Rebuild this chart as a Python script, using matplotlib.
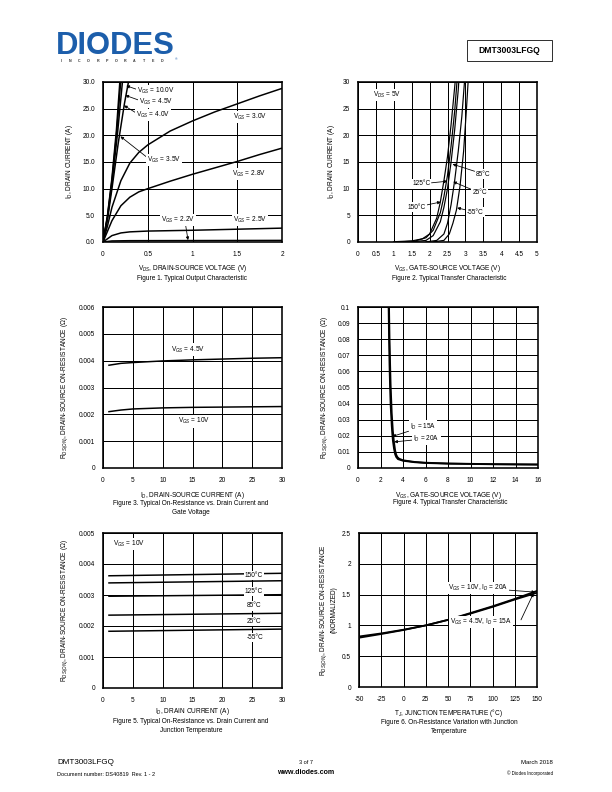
import numpy as np
import matplotlib
matplotlib.use("Agg")
from matplotlib import pyplot as plt
from matplotlib.patches import Rectangle

plt.rcParams["font.family"] = ["Liberation Sans", "DejaVu Sans"]
plt.rcParams["mathtext.fontset"] = "custom"
plt.rcParams["mathtext.rm"] = "Liberation Sans"
plt.rcParams["mathtext.it"] = "Liberation Sans:italic"
plt.rcParams["mathtext.bf"] = "Liberation Sans:bold"

FS = 6.5

## データ

# Figure 1: 出力特性 (VDS, ID)
f1_vgs10 = [[0, 0], [0.05, 5], [0.1, 12], [0.15, 21], [0.19, 30.5]]
f1_vgs45 = [[0, 0], [0.05, 4.8], [0.1, 11.5], [0.15, 20], [0.2, 30.5]]
f1_vgs40 = [[0, 0], [0.05, 4.5], [0.1, 11], [0.16, 20], [0.22, 30.5]]
f1_vgs35 = [[0, 0], [0.05, 4.2], [0.1, 10], [0.17, 18.5], [0.24, 26], [0.29, 30.5]]
f1_vgs30 = [[0, 0], [0.05, 3], [0.1, 6.5], [0.2, 11.5], [0.3, 14.8], [0.4, 16.8], [0.5, 18.2],
            [0.75, 20.8], [1.0, 22.7], [1.25, 24.4], [1.5, 25.9], [1.75, 27.4], [2.0, 28.8]]
f1_vgs28 = [[0, 0], [0.05, 2], [0.1, 4], [0.2, 6.8], [0.3, 8.4], [0.4, 9.4], [0.5, 10.0],
            [0.75, 11.4], [1.0, 12.7], [1.25, 13.9], [1.5, 15.1], [1.75, 16.4], [2.0, 17.6]]
f1_vgs25 = [[0, 0], [0.1, 1.2], [0.2, 1.7], [0.3, 1.9], [0.5, 2.05], [1.0, 2.2], [1.5, 2.4], [2.0, 2.6]]
f1_vgs22 = [[0, 0], [0.1, 0.2], [0.3, 0.25], [2.0, 0.3]]

# Figure 2: 伝達特性 (VGS, ID)
f2_t150 = [[1.0, 0.05], [1.5, 0.2], [1.8, 0.6], [2.0, 1.5], [2.2, 4.5], [2.3, 7.5], [2.4, 11.5],
           [2.5, 16], [2.6, 22], [2.7, 29], [2.72, 30.5]]
f2_t125 = [[1.2, 0.03], [1.6, 0.2], [1.9, 0.8], [2.1, 2.2], [2.3, 5.5], [2.4, 8.5], [2.5, 12.5],
           [2.6, 18], [2.7, 24.5], [2.77, 30.5]]
f2_t85 = [[1.5, 0.03], [1.9, 0.3], [2.1, 1.2], [2.3, 3.8], [2.4, 6.5], [2.5, 10], [2.6, 15],
          [2.7, 21], [2.8, 28.5], [2.82, 30.5]]
f2_t25 = [[1.9, 0.02], [2.2, 0.3], [2.4, 1.5], [2.5, 3.5], [2.6, 7], [2.7, 11.5], [2.8, 17],
          [2.9, 23.5], [2.98, 30.5]]
f2_tm55 = [[2.1, 0.02], [2.4, 0.3], [2.55, 1.5], [2.65, 3.5], [2.75, 6], [2.85, 10.5], [2.95, 17],
           [3.03, 25], [3.08, 30.5]]

# Figure 3: オン抵抗 vs ID
f3_id = [1, 3, 5, 10, 15, 20, 25, 30]
f3_vgs45 = [0.00383, 0.00390, 0.00393, 0.00399, 0.00403, 0.00406, 0.00409, 0.00411]
f3_vgs10 = [0.00210, 0.00216, 0.00220, 0.00224, 0.00226, 0.00227, 0.00228, 0.00229]

# Figure 4: オン抵抗 vs VGS
f4_id15 = [[2.72, 0.1], [2.76, 0.08], [2.8, 0.064], [2.85, 0.05], [2.9, 0.039], [3.0, 0.026],
           [3.05, 0.021], [3.1, 0.017], [3.2, 0.012], [3.3, 0.0085], [3.4, 0.0068], [3.55, 0.0055],
           [4, 0.0045], [5, 0.0036], [6, 0.0031], [8, 0.0027], [10, 0.0025], [12, 0.0023],
           [14, 0.0022], [16, 0.0021]]
f4_id20 = [[2.76, 0.1], [2.8, 0.082], [2.85, 0.066], [2.9, 0.052], [3.0, 0.034], [3.1, 0.023],
           [3.2, 0.016], [3.3, 0.011], [3.4, 0.0082], [3.5, 0.0068], [3.65, 0.0058], [4, 0.0048],
           [5, 0.0038], [6, 0.0033], [8, 0.0028], [10, 0.0026], [12, 0.0024], [14, 0.0023],
           [16, 0.0022]]

# Figure 5: オン抵抗 vs ID (温度別)
f5_id = [1, 30]
f5_t150 = [0.00362, 0.00370]
f5_t125 = [0.00339, 0.00346]
f5_t85 = [0.00296, 0.00301]
f5_t25 = [0.00235, 0.00241]
f5_tm55 = [0.00183, 0.00190]

# Figure 6: 正規化オン抵抗 vs Tj
f6_tj = [-50, -25, 0, 25, 50, 75, 100, 125, 150]
f6_vgs10 = [0.82, 0.87, 0.93, 1.0, 1.09, 1.2, 1.31, 1.43, 1.56]
f6_vgs45 = [0.80, 0.86, 0.925, 1.0, 1.09, 1.19, 1.30, 1.42, 1.53]


fig = plt.figure(figsize=(8.5, 11), dpi=72)
W, H = 612.0, 792.0


def add_ax(x0, y0, x1, y1):
    return fig.add_axes([x0 / W, 1 - y1 / H, (x1 - x0) / W, (y1 - y0) / H])


def style(ax, xlim, ylim, xt, yt, xtl, ytl, xlabel, ylabel, xl_y, yl_x):
    ax.set_xlim(*xlim)
    ax.set_ylim(*ylim)
    ax.set_xticks(xt)
    ax.set_yticks(yt)
    ax.set_xticklabels(xtl)
    ax.set_yticklabels(ytl)
    ax.tick_params(length=0, labelsize=FS, pad=8)
    ax.tick_params(axis="x", pad=9)
    ax.grid(True, color="black", linewidth=1.0)
    ax.set_axisbelow(True)
    for s in ax.spines.values():
        s.set_linewidth(1.6)
    ax.set_xlabel(xlabel, fontsize=FS)
    ax.set_ylabel(ylabel, fontsize=FS, ha="center", multialignment="center")
    ax.xaxis.set_label_coords(0.5, xl_y)
    ax.yaxis.set_label_coords(yl_x, 0.5)


def curve(ax, pts, lw=1.5):
    a = np.array(pts)
    ax.plot(a[:, 0], a[:, 1], color="black", linewidth=lw, zorder=3)


box = dict(fc="white", ec="none", pad=1.2)
arr = dict(arrowstyle="-|>", color="black", lw=0.8, mutation_scale=6, shrinkA=0, shrinkB=0)


def label(ax, s, xy, xytext=None, ha="left"):
    if xytext is None:
        ax.text(xy[0], xy[1], s, fontsize=FS, ha=ha, va="center", bbox=box, zorder=5)
    else:
        ax.annotate(s, xy=xy, xytext=xytext, fontsize=FS, ha=ha, va="center",
                    bbox=box, zorder=5, arrowprops=arr)


## Figure 1
ax = add_ax(103, 82, 282, 242)
style(ax, (0, 2), (0, 30), np.arange(0, 2.01, 0.5), np.arange(0, 30.1, 5),
      ["0", "0.5", "1", "1.5", "2"], ["%.1f" % v for v in np.arange(0, 30.1, 5)],
      "V$_{DS}$, DRAIN-SOURCE VOLTAGE (V)", "I$_D$, DRAIN CURRENT (A)", -0.134, -0.159)
for c in [f1_vgs10, f1_vgs45, f1_vgs40, f1_vgs35, f1_vgs30, f1_vgs28, f1_vgs25, f1_vgs22]:
    curve(ax, c)
ax.annotate("", xy=(0.26, 29.3), xytext=(0.38, 28.6), arrowprops=arr, zorder=5)
label(ax, "V$_{GS}$ = 10.0V", (0.38, 28.3))
ax.annotate("", xy=(0.25, 27.5), xytext=(0.40, 26.6), arrowprops=arr, zorder=5)
label(ax, "V$_{GS}$ = 4.5V", (0.40, 26.25))
ax.annotate("", xy=(0.235, 25.6), xytext=(0.37, 24.2), arrowprops=arr, zorder=5)
label(ax, "V$_{GS}$ = 4.0V", (0.37, 23.8))
label(ax, "V$_{GS}$ = 3.0V", (1.45, 23.4))
ax.annotate("", xy=(0.195, 19.8), xytext=(0.49, 15.9), arrowprops=arr, zorder=5)
label(ax, "V$_{GS}$ = 3.5V", (0.49, 15.4))
label(ax, "V$_{GS}$ = 2.8V", (1.44, 12.75))
ax.annotate("", xy=(0.95, 0.35), xytext=(0.92, 3.5), arrowprops=arr, zorder=5)
label(ax, "V$_{GS}$ = 2.2V", (0.65, 4.1))
label(ax, "V$_{GS}$ = 2.5V", (1.45, 4.1))

## Figure 2
ax = add_ax(358, 82, 537, 242)
style(ax, (0, 5), (0, 30), np.arange(0, 5.01, 0.5), np.arange(0, 30.1, 5),
      ["0", "0.5", "1", "1.5", "2", "2.5", "3", "3.5", "4", "4.5", "5"],
      [str(v) for v in range(0, 31, 5)],
      "V$_{GS}$, GATE-SOURCE VOLTAGE (V)", "I$_D$, DRAIN CURRENT (A)", -0.134, -0.12)
for c in [f2_t150, f2_t125, f2_t85, f2_t25, f2_tm55]:
    curve(ax, c, lw=1.2)
label(ax, "V$_{DS}$ = 5V", (0.41, 27.6))
label(ax, "85°C", (2.64, 14.6), (3.29, 12.75))
label(ax, "125°C", (2.5, 11.4), (2.02, 10.9), ha="right")
label(ax, "25°C", (2.66, 11.3), (3.2, 9.2))
label(ax, "150°C", (2.31, 7.5), (1.9, 6.56), ha="right")
label(ax, "-55°C", (2.77, 6.4), (3.04, 5.6))

## Figure 3
ax = add_ax(103, 307, 282, 468)
style(ax, (0, 30), (0, 0.006), np.arange(0, 31, 5), np.arange(0, 0.00601, 0.001),
      [str(v) for v in range(0, 31, 5)], ["0", "0.001", "0.002", "0.003", "0.004", "0.005", "0.006"],
      "I$_D$, DRAIN-SOURCE CURRENT (A)", "R$_{DS(ON)}$, DRAIN-SOURCE ON-RESISTANCE (Ω)",
      -0.134, -0.187)
ax.plot(f3_id, f3_vgs45, color="black", linewidth=1.5, zorder=3)
ax.plot(f3_id, f3_vgs10, color="black", linewidth=1.5, zorder=3)
label(ax, "V$_{GS}$ = 4.5V", (11.4, 0.00441))
label(ax, "V$_{GS}$ = 10V", (12.6, 0.00174))

## Figure 4
ax = add_ax(358, 307, 538, 468)
style(ax, (0, 16), (0, 0.1), np.arange(0, 17, 2), np.arange(0, 0.1001, 0.01),
      [str(v) for v in range(0, 17, 2)],
      ["0", "0.01", "0.02", "0.03", "0.04", "0.05", "0.06", "0.07", "0.08", "0.09", "0.1"],
      "V$_{GS}$, GATE-SOURCE VOLTAGE (V)", "R$_{DS(ON)}$, DRAIN-SOURCE ON-RESISTANCE (Ω)",
      -0.134, -0.158)
curve(ax, f4_id15, lw=1.8)
curve(ax, f4_id20, lw=1.8)
label(ax, "I$_D$ = 15A", (3.06, 0.0196), (4.6, 0.0257))
label(ax, "I$_D$ = 20A", (3.22, 0.0162), (4.89, 0.0182))

## Figure 5
ax = add_ax(103, 533, 282, 688)
style(ax, (0, 30), (0, 0.005), np.arange(0, 31, 5), np.arange(0, 0.00501, 0.001),
      [str(v) for v in range(0, 31, 5)], ["0", "0.001", "0.002", "0.003", "0.004", "0.005"],
      "I$_D$, DRAIN CURRENT (A)", "R$_{DS(ON)}$, DRAIN-SOURCE ON-RESISTANCE (Ω)",
      -0.113, -0.187)
for r in [f5_t150, f5_t125, f5_t85, f5_t25, f5_tm55]:
    ax.plot(f5_id, r, color="black", linewidth=1.5, zorder=3)
label(ax, "V$_{GS}$ = 10V", (1.7, 0.00465))
label(ax, "150°C", (23.8, 0.00362))
label(ax, "125°C", (23.8, 0.00312))
label(ax, "85°C", (24.1, 0.00265))
label(ax, "25°C", (24.1, 0.00215))
label(ax, "-55°C", (24.1, 0.00163))

## Figure 6
ax = add_ax(359, 533, 537, 687)
style(ax, (-50, 150), (0, 2.5), np.arange(-50, 151, 25), np.arange(0, 2.51, 0.5),
      [str(v) for v in range(-50, 151, 25)], ["0", "0.5", "1", "1.5", "2", "2.5"],
      "T$_J$, JUNCTION TEMPERATURE (°C)",
      "R$_{DS(ON)}$, DRAIN-SOURCE ON-RESISTANCE\n(NORMALIZED)", -0.128, -0.122)
ax.plot(f6_tj, f6_vgs10, color="black", linewidth=1.8, zorder=3)
ax.plot(f6_tj, f6_vgs45, color="black", linewidth=1.8, zorder=3)
label(ax, "V$_{GS}$ = 10V, I$_D$ = 20A", (148, 1.54), (49.7, 1.61))
ax.annotate("", xy=(146, 1.52), xytext=(132, 1.09), arrowprops=arr, zorder=5)
label(ax, "V$_{GS}$ = 4.5V, I$_D$ = 15A", (52, 1.055))

## キャプション
def ftext(x, y, s, **kw):
    fig.text(x / W, 1 - y / H, s, **kw)

ftext(192, 279, "Figure 1. Typical Output Characteristic", fontsize=FS, ha="center", va="center")
ftext(449, 279, "Figure 2. Typical Transfer Characteristic", fontsize=FS, ha="center", va="center")
ftext(191, 508, "Figure 3. Typical On-Resistance vs. Drain Current and\nGate Voltage",
      fontsize=FS, ha="center", va="center", linespacing=1.4)
ftext(450, 503, "Figure 4. Typical Transfer Characteristic", fontsize=FS, ha="center", va="center")
ftext(191, 726, "Figure 5. Typical On-Resistance vs. Drain Current and\nJunction Temperature",
      fontsize=FS, ha="center", va="center", linespacing=1.4)
ftext(449, 727, "Figure 6. On-Resistance Variation with Junction\nTemperature",
      fontsize=FS, ha="center", va="center", linespacing=1.4)

## ヘッダー
ftext(56, 46, "DIODES", fontsize=31, fontweight="bold", color="#1c5eab", va="center")
fig.add_artist(plt.Line2D([62 / W, 118 / W], [1 - 45 / H, 1 - 45 / H], color="white", lw=1.2))
for i, ch in enumerate("INCORPORATED"):
    ftext(61 + i * 9.2, 61.5, ch, fontsize=3.6, color="#333333", ha="center", va="center",
          fontweight="bold")
ftext(175, 59, "®", fontsize=3.5, color="#1c5eab", va="center")
fig.add_artist(Rectangle((467 / W, 1 - 61 / H), 85 / W, 21 / H, transform=fig.transFigure,
                         fill=False, ec="black", lw=0.8))
ftext(509.5, 50.5, "DMT3003LFGQ", fontsize=8.5, fontweight="bold", ha="center", va="center")

## フッター
ftext(57, 763, "DMT3003LFGQ", fontsize=8, va="center")
ftext(57, 774, "Document number: DS40819  Rev. 1 - 2", fontsize=5.5, va="center")
ftext(306, 762, "3 of 7", fontsize=5.5, ha="center", va="center")
ftext(306, 773, "www.diodes.com", fontsize=7, fontweight="bold", ha="center", va="center")
ftext(553, 763, "March 2018", fontsize=6, ha="right", va="center")
ftext(553, 773, "© Diodes Incorporated", fontsize=4.5, ha="right", va="center")

fig.savefig("out.png", dpi=72)
